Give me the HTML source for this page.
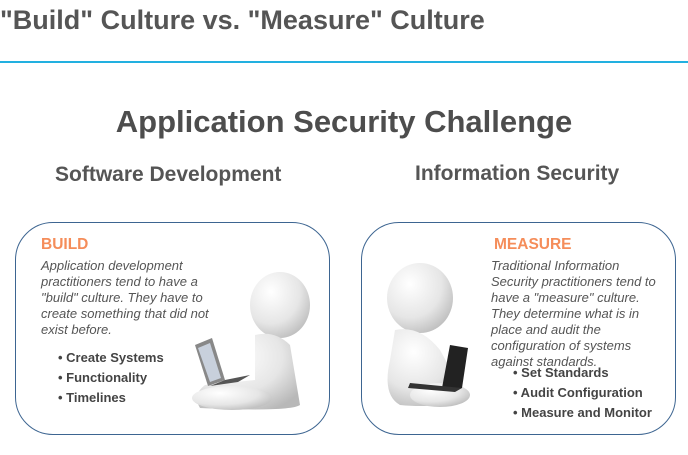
<!DOCTYPE html>
<html><head><meta charset="utf-8"><style>
body{margin:0;width:688px;height:455px;background:#fff;position:relative;overflow:hidden;font-family:"Liberation Sans",Arial,sans-serif}
.a{position:absolute;white-space:nowrap}
.box{position:absolute;border:1.5px solid #3d6591;border-radius:38px;top:222px;height:213px;width:315px;box-sizing:border-box}
.h{color:#f58d5a;font-weight:bold;font-size:15.5px}
.it{font-style:italic;color:#555;font-size:13px;line-height:16px;white-space:normal}
.li{font-weight:bold;color:#444;font-size:13px}
</style></head><body>
<div class="a" style="left:0;top:5px;font-size:27px;font-weight:bold;color:#555">"Build" Culture vs. "Measure" Culture</div>
<div class="a" style="left:0;top:61px;width:688px;height:2px;background:#22b0e0"></div>
<div class="a" style="left:0;width:688px;text-align:center;top:104px;font-size:31px;font-weight:bold;color:#4d4d4d">Application Security Challenge</div>
<div class="a" style="left:55px;top:163px;font-size:21px;font-weight:bold;color:#555">Software Development</div>
<div class="a" style="left:415px;top:162px;font-size:21px;font-weight:bold;color:#555">Information Security</div>
<div class="box" style="left:15px"></div>
<div class="box" style="left:361px"></div>
<svg class="a" style="left:0;top:0" width="688" height="455">
<defs><radialGradient id="g" cx="0.35" cy="0.3" r="0.8"><stop offset="0" stop-color="#fff"/><stop offset="0.6" stop-color="#e6e6e6"/><stop offset="1" stop-color="#b8b8b8"/></radialGradient></defs>
<g fill="url(#g)">
<ellipse cx="280" cy="305" rx="30" ry="33"/>
<path d="M255 335 Q275 330 290 345 L300 405 Q290 412 200 408 Q192 395 205 385 L255 380 Z"/>
<ellipse cx="232" cy="398" rx="40" ry="12"/>
<ellipse cx="420" cy="298" rx="33" ry="35"/>
<path d="M395 330 Q420 325 440 350 L462 390 Q455 410 400 405 Q382 395 390 360 Z"/>
<ellipse cx="440" cy="395" rx="30" ry="12"/>
</g>
<path d="M195 345 L212 338 L225 380 L208 386 Z" fill="#888"/><path d="M198 348 L210 343 L221 378 L210 382 Z" fill="#c8d0dc"/>
<path d="M210 386 L225 380 L250 375 L238 382 Z" fill="#555"/>
<path d="M450 345 L468 348 L462 388 L442 388 Z" fill="#222"/>
<path d="M410 383 L462 388 L455 392 L408 388 Z" fill="#333"/>
</svg>
<div class="a h" style="left:41px;top:236px">BUILD</div>
<div class="a it" style="left:41px;top:258px;width:172px">Application development practitioners tend to have a "build" culture. They have to create something that did not exist before.</div>
<div class="a li" style="left:58px;top:348px;line-height:20px">• Create Systems<br>• Functionality<br>• Timelines</div>
<div class="a h" style="left:494px;top:236px">MEASURE</div>
<div class="a it" style="left:491px;top:258px;width:172px">Traditional Information Security practitioners tend to have a "measure" culture. They determine what is in place and audit the configuration of systems against standards.</div>
<div class="a li" style="left:513px;top:363px;line-height:20px">• Set Standards<br>• Audit Configuration<br>• Measure and Monitor</div>
</body></html>
